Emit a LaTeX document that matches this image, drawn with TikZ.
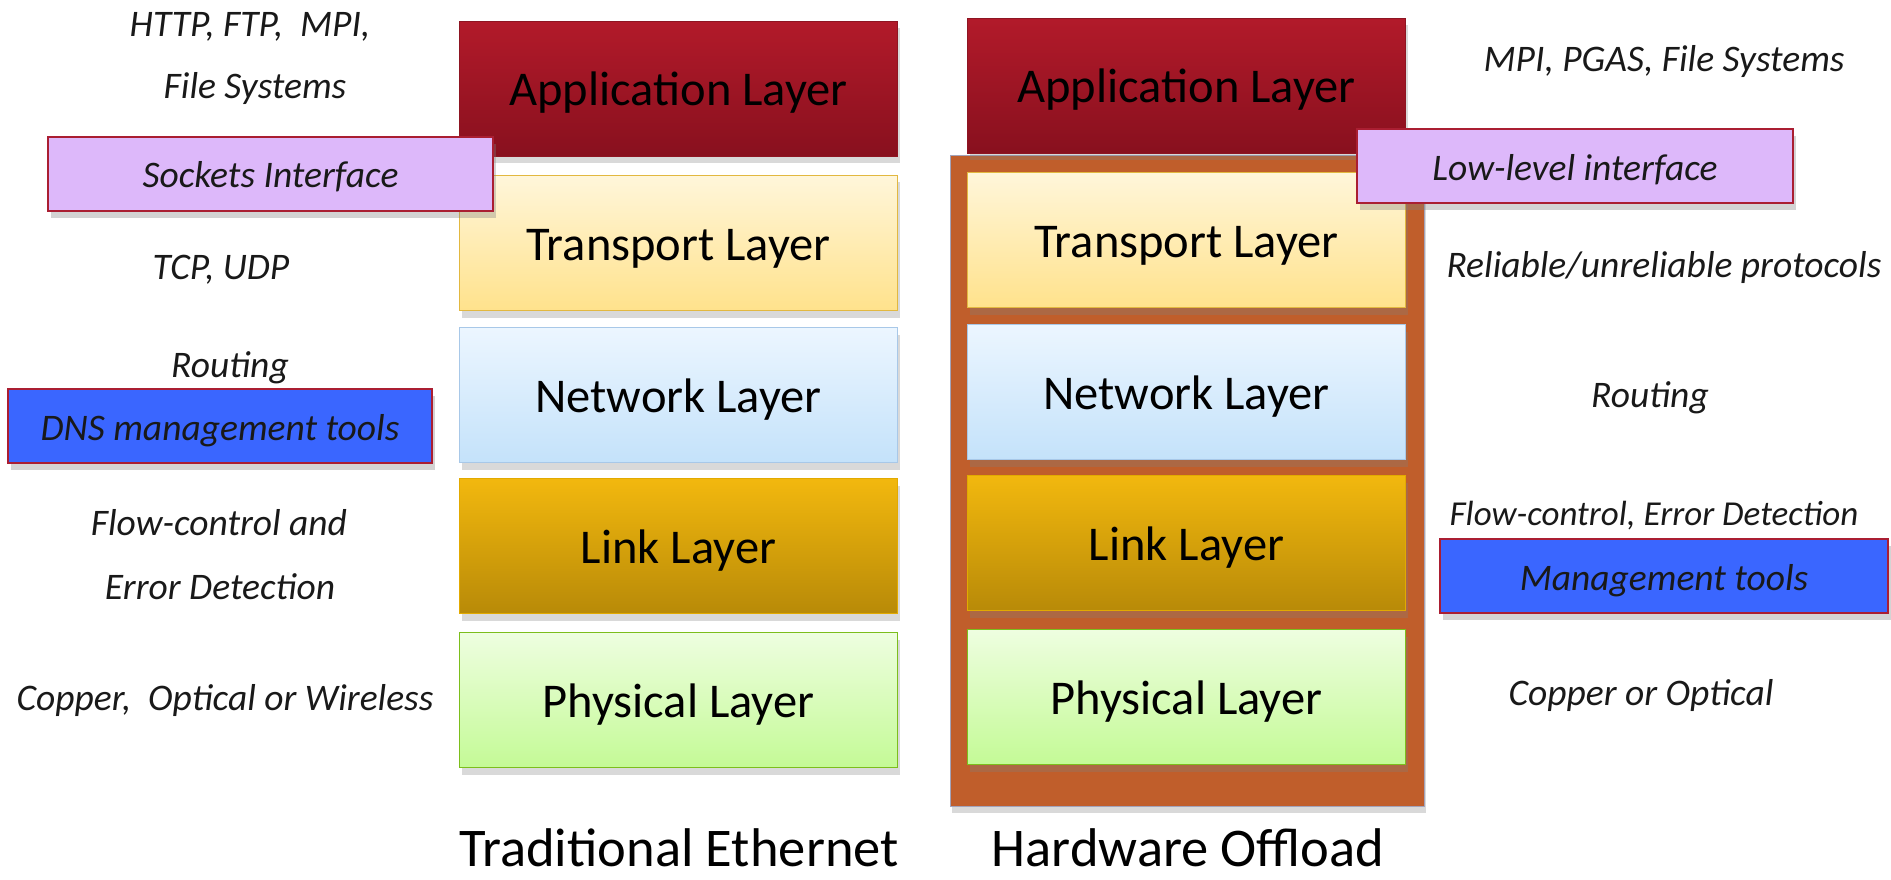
\documentclass[tikz,border=0pt]{standalone}
\usepackage{fontspec}
\setmainfont{Carlito}
\usetikzlibrary{shadows}

\definecolor{apptop}{RGB}{178,26,42}
\definecolor{appbot}{RGB}{136,16,30}
\definecolor{trtop}{RGB}{255,246,218}
\definecolor{trbot}{RGB}{255,226,140}
\definecolor{trline}{RGB}{226,184,64}
\definecolor{nettop}{RGB}{236,246,255}
\definecolor{netbot}{RGB}{196,226,250}
\definecolor{netline}{RGB}{168,200,232}
\definecolor{lktop}{RGB}{242,184,14}
\definecolor{lkbot}{RGB}{184,138,8}
\definecolor{lkline}{RGB}{226,170,0}
\definecolor{phtop}{RGB}{238,254,224}
\definecolor{phbot}{RGB}{196,250,150}
\definecolor{phline}{RGB}{124,190,28}
\definecolor{offload}{RGB}{192,94,43}
\definecolor{lavender}{RGB}{221,184,250}
\definecolor{toolblue}{RGB}{58,102,255}
\definecolor{boxred}{RGB}{170,30,50}

\tikzset{
  layer/.style={rectangle, minimum width=438pt, minimum height=135pt, inner sep=0pt,
    line width=1.2pt, font=\fontsize{48.5}{54}\selectfont, text height=34pt, text depth=0pt,
    drop shadow={shadow xshift=2pt, shadow yshift=-7pt, opacity=0.3}},
  note/.style={font=\fontsize{37.5}{44}\selectfont\itshape, text=black!90, text height=24pt, text depth=0pt},
  tag/.style={rectangle, note, minimum height=74pt, inner sep=0pt, draw=boxred, line width=1.3pt,
    text height=28pt, text depth=0pt,
    drop shadow={shadow xshift=3pt, shadow yshift=-7pt, opacity=0.35}},
  title/.style={font=\fontsize{54.5}{60}\selectfont, anchor=base, text depth=0pt}
}

\begin{document}
\begin{tikzpicture}[x=1pt, y=-1pt]
  \useasboundingbox (0,0) rectangle (1891,880);

  %offload frame behind the right stack
  \node (frame) at (1187,480.5) [rectangle, minimum width=474pt, minimum height=651pt, inner sep=0pt,
    fill=offload, draw=black!25!blue!20!gray!60, line width=0.8pt,
    drop shadow={shadow xshift=2pt, shadow yshift=-7pt, opacity=0.3}]{};

  %the two stacks of layers
  \foreach \side/\x/\dy in {trad/678.5/0, hw/1186.5/-3}{
    \node (\side app) at (\x, 89+\dy) [layer, top color=apptop, bottom color=appbot, draw=apptop!80!black]{Application Layer};
    \node (\side tr) at (\x, 243+\dy) [layer, top color=trtop, bottom color=trbot, draw=trline]{Transport Layer};
    \node (\side net) at (\x, 395+\dy) [layer, top color=nettop, bottom color=netbot, draw=netline]{Network Layer};
    \node (\side lk) at (\x, 546+\dy) [layer, top color=lktop, bottom color=lkbot, draw=lkline]{Link Layer};
    \node (\side ph) at (\x, 700+\dy) [layer, top color=phtop, bottom color=phbot, draw=phline]{Physical Layer};
  }

  %interface and tools boxes
  \node (sockets) at (270.5,174) [tag, fill=lavender, minimum width=445pt]{Sockets Interface};
  \node (dns) at (220,426) [tag, fill=toolblue, minimum width=424pt]{DNS management tools};
  \node (lowlevel) at (1575,166) [tag, fill=lavender, minimum width=436pt]{Low-level interface};
  \node (mgmt) at (1664,576) [tag, fill=toolblue, minimum width=448pt]{Management tools};

  %left notes
  \node (httpnote) at (250,25) [note]{HTTP, FTP,\ \ MPI,};
  \node (fsnote) at (255,87) [note]{File Systems};
  \node (tcpnote) at (221,267) [note]{TCP, UDP};
  \node (routenote) at (230,365) [note]{Routing};
  \node (flownote) at (219,523) [note]{Flow-control and};
  \node (errnote) at (220,587) [note]{Error Detection};
  \node (copnote) at (225,698) [note]{Copper,\ \ Optical or Wireless};

  %right notes
  \node (mpinote) at (1664,60) [note]{MPI, PGAS, File Systems};
  \node (relnote) at (1664,265) [note]{Reliable/unreliable protocols};
  \node (hwroute) at (1650,395) [note]{Routing};
  \node (hwflow) at (1654,513) [note, font=\fontsize{35}{42}\selectfont\itshape]{Flow-control, Error Detection};
  \node (hwcop) at (1641,693) [note]{Copper or Optical};

  \node (tradtitle) at (679,866) [title]{Traditional Ethernet};
  \node (hwtitle) at (1188,866) [title]{Hardware Offload};
\end{tikzpicture}
\end{document}
